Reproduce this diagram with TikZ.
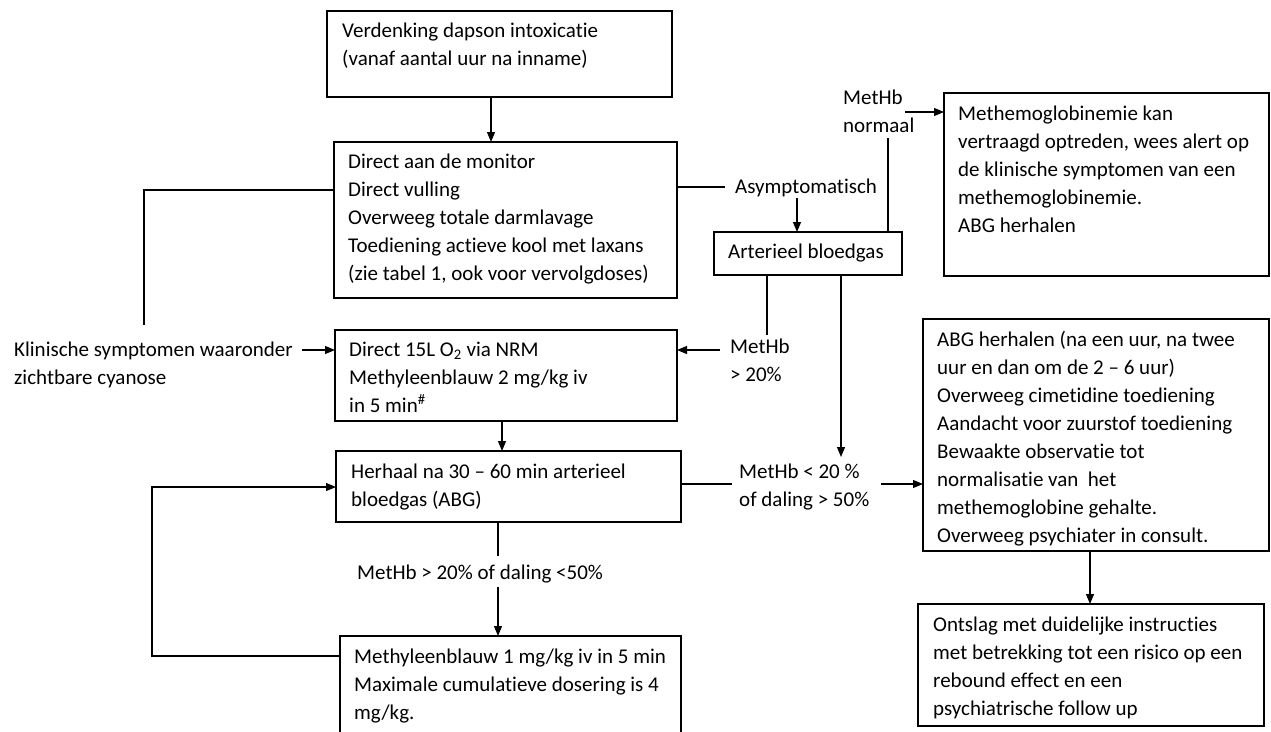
\documentclass[tikz,border=0pt]{standalone}
\usepackage{fontspec}
\setmainfont{Carlito}[Ligatures={NoCommon,NoRequired,NoContextual}]
\usetikzlibrary{arrows.meta}
\begin{document}
\begin{tikzpicture}[x=1pt,y=-1pt,
  box/.style={draw, line width=1.2pt, inner sep=0pt, outer sep=0pt, anchor=north west},
  txt/.style={anchor=north west, inner sep=0pt, align=left, font=\fontsize{21}{28}\selectfont},
  con/.style={line width=1.1pt},
  arr/.style={con, -{Triangle[length=10pt,width=8pt]}}]
\useasboundingbox (0,0) rectangle (1271,731);
\clip (0,0) rectangle (1271,731);
% boxes
\node[box, minimum width=345pt, minimum height=86pt] (b1) at (327,11) {};
\node[box, minimum width=343pt, minimum height=156pt] (b2) at (334,142) {};
\node[box, minimum width=342pt, minimum height=91pt] (b3) at (335,330) {};
\node[box, minimum width=345pt, minimum height=71pt] (b4) at (336,451) {};
\node[box, minimum width=341pt, minimum height=110pt] (b5) at (340,636) {};
\node[box, minimum width=188pt, minimum height=43pt] (ab) at (714,232) {};
\node[box, minimum width=325pt, minimum height=183pt] (mh) at (944,93) {};
\node[box, minimum width=346pt, minimum height=232pt] (abg) at (923,319) {};
\node[box, minimum width=346pt, minimum height=122pt] (os) at (918,604) {};
% texts
\node[txt] (t1) at (342,17.4) {\strut Verdenking dapson intoxicatie\\(vanaf aantal uur na inname)};
\node[txt] (t2) at (348,148.4) {\strut Direct aan de monitor\\Direct vulling\\Overweeg totale darmlavage\\Toediening actieve kool met laxans\\(zie tabel 1, ook voor vervolgdoses)};
\node[txt] (t3) at (349,336.4) {\strut Direct 15L O\textsubscript{2} via NRM\\Methyleenblauw 2 mg/kg iv\\in 5 min\textsuperscript{\#}};
\node[txt] (t4) at (351,458.4) {\strut Herhaal na 30 -- 60 min arterieel\\bloedgas (ABG)};
\node[txt] (t5) at (354,643.4) {\strut Methyleenblauw 1 mg/kg iv in 5 min\\Maximale cumulatieve dosering is 4\\mg/kg.};
\node[txt] (tab) at (728,238.4) {\strut Arterieel bloedgas};
\node[txt] (tmh) at (958,100.4) {\strut Methemoglobinemie kan\\vertraagd optreden, wees alert op\\de klinische symptomen van een\\methemoglobinemie.\\ABG herhalen};
\node[txt] (tabg) at (937,326.4) {\strut ABG herhalen (na een uur, na twee\\uur en dan om de 2 -- 6 uur)\\Overweeg cimetidine toediening\\Aandacht voor zuurstof toediening\\Bewaakte observatie tot\\normalisatie van~ het\\methemoglobine gehalte.\\Overweeg psychiater in consult.};
\node[txt] (tos) at (933,611.4) {\strut Ontslag met duidelijke instructies\\met betrekking tot een risico op een\\rebound effect en een\\psychiatrische follow up};
% labels
\node[txt] (lk) at (14,336.4) {\strut Klinische symptomen waaronder\\zichtbare cyanose};
\node[txt] (la) at (735,173.4) {\strut Asymptomatisch};
\node[txt] (ln) at (843,84.4) {\strut MetHb\\normaal};
\node[txt] (lg) at (730,333.4) {\strut MetHb\\> 20\%};
\node[txt] (ll) at (739,458.4) {\strut MetHb < 20 \%\\of daling > 50\%};
\node[txt] (lm) at (357,559.4) {\strut MetHb > 20\% of daling <50\%};
% coordinates
\coordinate (c1) at (144,190);
\coordinate (c2) at (144,325);
\coordinate (c3) at (302,350);
\coordinate (c4) at (725,187);
\coordinate (c5) at (797,198);
\coordinate (c6) at (888,138);
\coordinate (c7) at (905,112);
\coordinate (c8) at (767,335);
\coordinate (c9) at (720,350);
\coordinate (c10) at (841,457);
\coordinate (c11) at (732,484);
\coordinate (c12) at (881,484);
\coordinate (c13) at (502,421);
\coordinate (c14) at (498,556);
\coordinate (c15) at (498,587);
\coordinate (c16) at (152,656);
\coordinate (c17) at (152,487);
\coordinate (c18) at (1090,551);
% connectors
\draw[arr] (b1.south -| 491,0) -- (b2.north -| 491,0);
\draw[con] (b2.west |- c1) -- (c1) -- (c2);
\draw[arr] (c3) -- (b3.west |- c3);
\draw[con] (b2.east |- c4) -- (c4);
\draw[arr] (c5) -- (ab.north -| c5);
\draw[con] (ab.north -| c6) -- (c6);
\draw[arr] (c7) -- (mh.west |- c7);
\draw[con] (ab.south -| c8) -- (c8);
\draw[arr] (c9) -- (b3.east |- c9);
\draw[arr] (ab.south -| c10) -- (c10);
\draw[con] (b4.east |- c11) -- (c11);
\draw[arr] (c12) -- (abg.west |- c12);
\draw[arr] (c13) -- (b4.north -| c13);
\draw[con] (b4.south -| c14) -- (c14);
\draw[arr] (c15) -- (b5.north -| c15);
\draw[arr] (b5.west |- c16) -- (c16) -- (c17) -- (b4.west |- c17);
\draw[arr] (c18) -- (os.north -| c18);
\end{tikzpicture}
\end{document}
